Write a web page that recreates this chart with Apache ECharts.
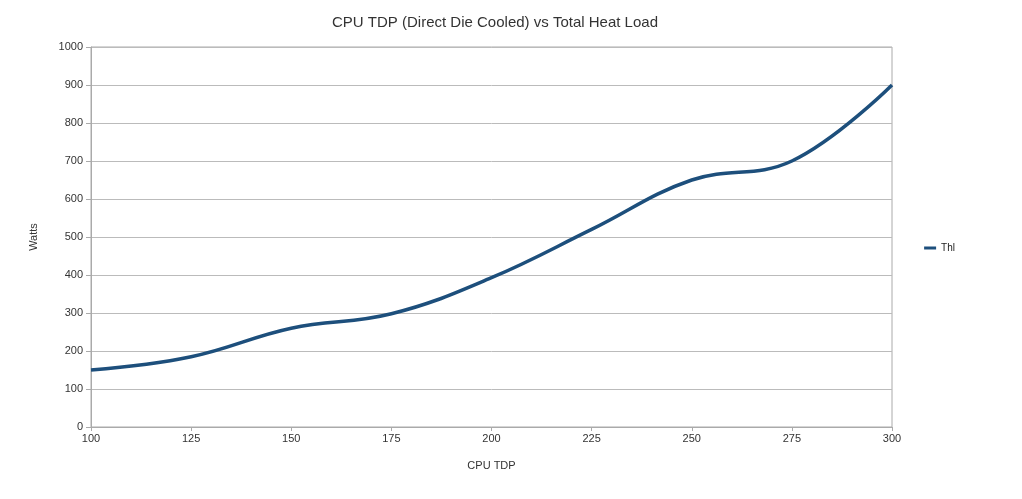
<!DOCTYPE html>
<html><head><meta charset="utf-8">
<script src="https://cdn.jsdelivr.net/npm/echarts@6/dist/echarts.min.js"></script>
<style>html,body{margin:0;padding:0;background:#fff}#c{width:1022px;height:499px}</style>
</head><body><div id="c"></div>
<script>
var cpuTdp = [100, 125, 150, 175, 200, 225, 250, 275, 300];
var thl = [150, 185, 260, 298, 393, 520, 650, 700, 900];
var seriesName = 'Thl';
var chart = echarts.init(document.getElementById('c'));
var font = '"Liberation Sans", Arial, sans-serif';
chart.setOption({
  animation: false,
  textStyle: { fontFamily: font },
  title: { text: 'CPU TDP (Direct Die Cooled) vs Total Heat Load', left: 490, top: 10, textAlign: 'center',
    textStyle: { fontFamily: font, fontSize: 15, fontWeight: 'normal', color: '#333' } },
  legend: { right: 62, top: 238, orient: 'vertical', itemWidth: 12, itemHeight: 3, itemGap: 4,
    icon: 'rect', textStyle: { fontFamily: font, fontSize: 10, color: '#222' }, data: [seriesName] },
  grid: { left: 91, right: 130, top: 47, bottom: 72, show: true, borderColor: '#aaa', borderWidth: 1 },
  xAxis: { type: 'value', min: 100, max: 300, interval: 25, name: 'CPU TDP', nameLocation: 'middle', nameGap: 33,
    nameTextStyle: { fontFamily: font, fontSize: 11, color: '#333' },
    axisLine: { lineStyle: { color: '#aaa' } }, axisTick: { show: true, length: 4, lineStyle: { color: '#aaa' } },
    axisLabel: { fontFamily: font, fontSize: 11, color: '#333', margin: 6 }, splitLine: { show: false } },
  yAxis: { type: 'value', min: 0, max: 1000, interval: 100, name: 'Watts', nameLocation: 'middle', nameGap: 52,
    nameTextStyle: { fontFamily: font, fontSize: 11, color: '#333' },
    axisLine: { show: true, lineStyle: { color: '#aaa' } }, axisTick: { show: true, length: 5, lineStyle: { color: '#aaa' } },
    axisLabel: { fontFamily: font, fontSize: 11, color: '#333', margin: 8, formatter: function (v) { return String(v); } },
    splitLine: { show: true, lineStyle: { color: '#bbb' } } },
  series: [{ name: seriesName, type: 'line', data: cpuTdp.map(function (x, i) { return [x, thl[i]]; }),
    smooth: 0.4, showSymbol: false, lineStyle: { color: '#1d4f7c', width: 3.5 }, itemStyle: { color: '#1d4f7c' } }]
});
</script></body></html>
